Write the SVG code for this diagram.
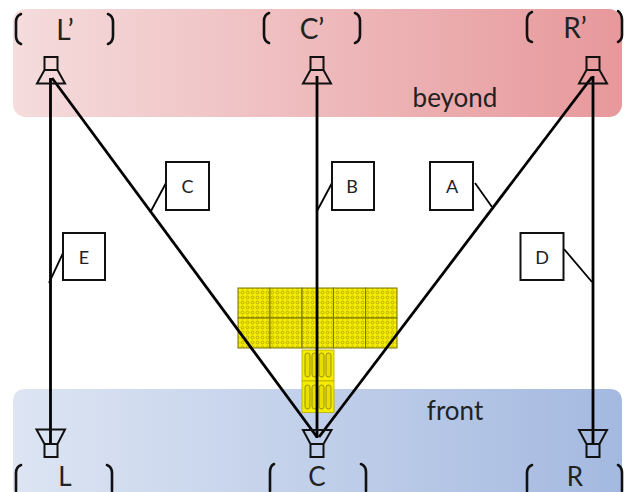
<svg xmlns="http://www.w3.org/2000/svg" width="628" height="492" viewBox="0 0 628 492">
<defs>
<linearGradient id="gTop" x1="0" y1="0" x2="1" y2="0"><stop offset="0" stop-color="#f5dcdd"/><stop offset="1" stop-color="#e7989b"/></linearGradient>
<linearGradient id="gBot" x1="0" y1="0" x2="1" y2="0"><stop offset="0" stop-color="#dde5f3"/><stop offset="1" stop-color="#a4b9e0"/></linearGradient>
<pattern id="dots" width="5" height="5" patternUnits="userSpaceOnUse"><rect width="5" height="5" fill="#f5ec00"/><circle cx="2.500" cy="2.500" r="1.400" fill="none" stroke="#b8ae00" stroke-width="1"/></pattern>
<g id="bar"><rect x="-2.500" y="0" width="5" height="24" rx="2.500" fill="#e8de00" stroke="#9a9210" stroke-width="1"/></g>
</defs>
<style>
.spk{fill:none;stroke:#111;stroke-width:2}
.brk{fill:none;stroke:#111;stroke-width:2.600;stroke-linecap:round}
.ln{fill:none;stroke:#000;stroke-width:2.800}
.lead{fill:none;stroke:#000;stroke-width:1.800}
.box{fill:#fff;stroke:#111;stroke-width:2}
.tile{fill:url(#dots);stroke:#7d7700;stroke-width:1}
text{font-family:"Lato","Liberation Sans",sans-serif;fill:#222;text-anchor:middle}
.big{font-size:28px}
.low{font-size:26px}
.mid{font-size:26px}
.sm{font-size:18px}
</style>
<g id="zone-beyond"><rect x="13" y="9" width="609" height="108" rx="13" fill="url(#gTop)"/><text class="mid" x="455" y="107">beyond</text></g>
<g id="zone-front"><path d="M26 389H609Q622 389 622 402V492H13V402Q13 389 26 389Z" fill="url(#gBot)"/><text class="mid" x="455" y="420">front</text></g>
<g id="array">
<rect class="tile" x="238" y="288" width="32" height="30"/><rect class="tile" x="270" y="288" width="32" height="30"/><rect class="tile" x="302" y="288" width="31.500" height="30"/><rect class="tile" x="333.500" y="288" width="32" height="30"/><rect class="tile" x="365.500" y="288" width="31.500" height="30"/>
<rect class="tile" x="238" y="318" width="32" height="30"/><rect class="tile" x="270" y="318" width="32" height="30"/><rect class="tile" x="302" y="318" width="31.500" height="30"/><rect class="tile" x="333.500" y="318" width="32" height="30"/><rect class="tile" x="365.500" y="318" width="31.500" height="30"/>
<rect x="302" y="350" width="32" height="31" fill="#f5ec00" stroke="#b5ad00" stroke-width="0.800"/><rect x="302" y="381" width="32" height="31.500" fill="#f5ec00" stroke="#b5ad00" stroke-width="0.800"/>
<use href="#bar" x="307.500" y="353"/><use href="#bar" x="314.500" y="353"/><use href="#bar" x="321.500" y="353"/><use href="#bar" x="328.500" y="353"/>
<use href="#bar" x="307.500" y="385"/><use href="#bar" x="314.500" y="385"/><use href="#bar" x="321.500" y="385"/><use href="#bar" x="328.500" y="385"/>
</g>
<g id="connectors">
<path class="ln" d="M50.500 78V443"/><path class="ln" d="M593 76V443"/><path class="ln" d="M317 76V438"/>
<path class="ln" d="M52 78L317 437"/><path class="ln" d="M592 77L319 437"/>
<path class="lead" d="M166 183L151 211"/><path class="lead" d="M63 253L49 283"/><path class="lead" d="M332 183L317 211"/><path class="lead" d="M475 183L492 207"/><path class="lead" d="M564 249L592 282"/>
</g>
<g id="spk-Lp"><path class="spk" d="M44.500 57H57.500V70H44.500ZM44.500 70L37 83.500H65L57.500 70"/><path class="brk" d="M21 14Q16 16 16 22V36Q16 42 21 44M108 14Q113 16 113 22V36Q113 42 108 44"/><text class="big" x="65" y="40">L’</text></g>
<g id="spk-Cp"><path class="spk" d="M310.500 57H323.500V70H310.500ZM310.500 70L303 83.500H331L323.500 70"/><path class="brk" d="M269 13Q264 15 264 21V35Q264 41 269 43M355 13Q360 15 360 21V35Q360 41 355 43"/><text class="big" x="312" y="39">C’</text></g>
<g id="spk-Rp"><path class="spk" d="M586.500 57H599.500V70H586.500ZM586.500 70L579 83.500H607L599.500 70"/><path class="brk" d="M532 12Q527 14 527 20V35Q527 41 532 42M618 11Q622 14 622 20V35Q622 40 618 42"/><text class="big" x="575" y="38">R’</text></g>
<g id="spk-L"><path class="spk" d="M36.500 429.500H65L57.500 444V457H44.500V444ZM44.500 444H57.500"/><path class="brk" d="M21 465Q16 467 16 473V491M107 465Q112 467 112 473V491"/><text class="low" x="65" y="486">L</text></g>
<g id="spk-C"><path class="spk" d="M303 430H331.500L323.500 444V457H310.500V444ZM310.500 444H323.500"/><path class="brk" d="M274 464Q270 466 270 472V491M361 464Q366 466 366 472V491"/><text class="low" x="317" y="486">C</text></g>
<g id="spk-R"><path class="spk" d="M579 430H607L599.500 444V457H586.500V444ZM586.500 444H599.500"/><path class="brk" d="M532 465Q527 467 527 473V491M618 465Q622 467 622 473V491"/><text class="low" x="575" y="486">R</text></g>
<g id="label-C"><rect class="box" x="166" y="162" width="43" height="48"/><text class="sm" x="187.500" y="193">C</text></g>
<g id="label-E"><rect class="box" x="63" y="233" width="42" height="47"/><text class="sm" x="84" y="264">E</text></g>
<g id="label-B"><rect class="box" x="332" y="162" width="42" height="48"/><text class="sm" x="352" y="193">B</text></g>
<g id="label-A"><rect class="box" x="430" y="162" width="43" height="48"/><text class="sm" x="452" y="193">A</text></g>
<g id="label-D"><rect class="box" x="520.500" y="233" width="43" height="47"/><text class="sm" x="542" y="264">D</text></g>
</svg>
